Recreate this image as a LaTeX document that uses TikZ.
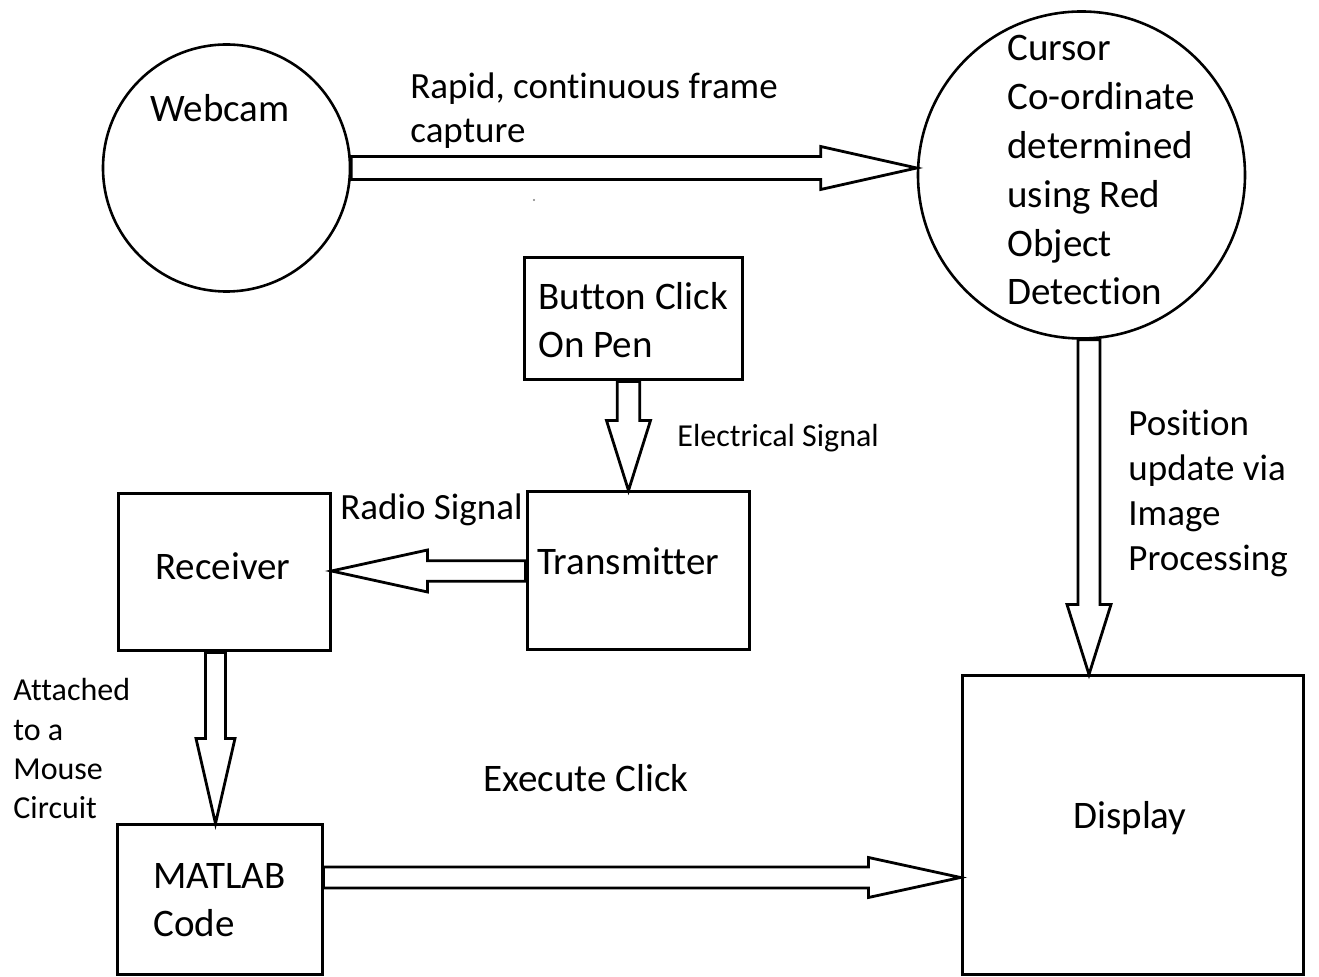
\documentclass[tikz,border=0pt]{standalone}
\usepackage{fontspec}
\setmainfont[Ligatures=CommonOff]{Carlito}
\usetikzlibrary{calc,fit}

% Block (hollow) arrow: #1 start, #2 tip, #3 shaft half width, #4 head half width, #5 head length
\newcommand\hollowarrow[5]{%
  \coordinate (ha-s) at (#1);
  \coordinate (ha-e) at (#2);
  \coordinate (ha-b) at ($(ha-e)!#5!(ha-s)$);
  \draw[blockarrow]
    ($(ha-s)!#3!90:(ha-e)$) -- ($(ha-b)!#3!90:(ha-e)$) --
    ($(ha-b)!#4!90:(ha-e)$) -- (ha-e) --
    ($(ha-b)!#4!-90:(ha-e)$) -- ($(ha-b)!#3!-90:(ha-e)$) --
    ($(ha-s)!#3!-90:(ha-e)$) -- cycle;}

\begin{document}
\begin{tikzpicture}[
  x=0.5pt, y=-0.5pt,
  box/.style={draw, line width=1.5pt, rectangle, inner sep=0pt},
  round/.style={draw, line width=1.3pt, circle, inner sep=0pt},
  blockarrow/.style={draw, line width=1.4pt, fill=white, line join=miter},
  bigtext/.style={font=\fontsize{19.5}{24}\selectfont, anchor=base west, inner sep=0pt},
  midtext/.style={font=\fontsize{18.5}{22.5}\selectfont, anchor=base west, inner sep=0pt},
  smalltext/.style={font=\fontsize{16}{19.5}\selectfont, anchor=base west, inner sep=0pt},
]
\useasboundingbox (0,0) rectangle (1319,977);

% shapes
\node[round, minimum size=123.5pt] (webcam) at (226.5,168) {};
\node[round, minimum size=163.5pt] (cursor) at (1081.5,175) {};
\node[box, fit={(524,258) (742,380)}] (button) {};
\node[box, fit={(527,492) (749,650)}] (trans) {};
\node[box, fit={(118,494) (330,651)}] (recv) {};
\node[box, fit={(117,825) (322,975)}] (matlab) {};
\node[box, fit={(962,676) (1303,975)}] (display) {};

% block arrows
\hollowarrow{webcam.east}{webcam.east -| cursor.west}{5.75pt}{10.75pt}{48pt}
\coordinate (btn-out) at ($(button.south)+(-4.5,0)$);
\hollowarrow{btn-out}{btn-out |- trans.north}{5.65pt}{11pt}{35pt}
\hollowarrow{trans.west}{trans.west -| recv.east}{5.15pt}{10.5pt}{48pt}
\coordinate (recv-out) at ($(recv.south)+(-8.5,0)$);
\hollowarrow{recv-out}{recv-out |- matlab.north}{5pt}{9.75pt}{42.5pt}
\coordinate (matlab-out) at ($(matlab.east)+(0,-22.5)$);
\hollowarrow{matlab-out}{matlab-out -| display.west}{5.25pt}{10pt}{46pt}
\coordinate (cursor-out) at ($(cursor.south)+(7.5,0)$);
\hollowarrow{cursor-out}{cursor-out |- display.north}{5.5pt}{11pt}{35pt}

% stray speck below the top arrow
\fill[gray] (534,200) circle (1.2);

% texts
\node[bigtext] (webcam-t) at (150,122) {Webcam};
\node[midtext] (capture-1) at (410,99) {Rapid, continuous frame};
\node[midtext] (capture-2) at (410,143) {capture};
\foreach \t [count=\i] in {Cursor, Co-ordinate, determined, using Red, Object, Detection}
  \node[bigtext] (cursor-\i) at (1007,{61+48.8*(\i-1)}) {\t};
\node[bigtext] (button-1) at (538,310) {Button Click};
\node[bigtext] (button-2) at (538,358) {On Pen};
\node[smalltext] (elec) at (677,447) {Electrical Signal};
\foreach \t [count=\i] in {Position, update via, Image, Processing}
  \node[midtext] (pos-\i) at (1128,{436+45*(\i-1)}) {\t};
\node[midtext] (radio) at (340,520) {Radio Signal};
\node[bigtext] (trans-t) at (537,575) {Transmitter};
\node[bigtext] (recv-t) at (155,580) {Receiver};
\foreach \t [count=\i] in {Attached, to a, Mouse, Circuit}
  \node[smalltext] (att-\i) at (13,{701+39.3*(\i-1)}) {\t};
\node[bigtext] (exec) at (483,792) {Execute Click};
\node[bigtext] (matlab-1) at (153,889) {MATLAB};
\node[bigtext] (matlab-2) at (153,937) {Code};
\node[bigtext] (display-t) at (1073,829) {Display};
\end{tikzpicture}
\end{document}
